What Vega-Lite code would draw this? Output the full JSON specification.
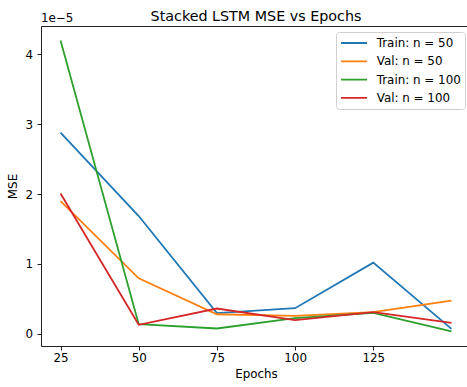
{
  "$schema": "https://vega.github.io/schema/vega-lite/v6.json",
  "autosize": {"type": "none"},
  "padding": {"left": 41, "top": 26, "right": 0, "bottom": 41},
  "width": 430,
  "height": 320,
  "background": "white",
  "title": {"text": "Stacked LSTM MSE vs Epochs", "fontSize": 14.3, "font": "DejaVu Sans", "fontWeight": "normal", "color": "#000", "offset": -23, "baseline": "alphabetic", "anchor": "middle"},
  "config": {
    "font": "DejaVu Sans",
    "view": {"stroke": "#222", "strokeWidth": 1},
    "axis": {"grid": false, "domain": false, "tickColor": "#222", "tickSize": 4, "tickWidth": 1, "labelColor": "#000", "titleColor": "#000", "labelFontSize": 11.9, "titleFontSize": 11.9, "labelFont": "DejaVu Sans", "titleFont": "DejaVu Sans", "titleFontWeight": "normal"}
  },
  "datasets": {
    "lines": [
      {"epochs": 25, "mse": 2.88e-5, "series": "Train: n = 50"},
      {"epochs": 50, "mse": 1.686e-5, "series": "Train: n = 50"},
      {"epochs": 75, "mse": 0.295e-5, "series": "Train: n = 50"},
      {"epochs": 100, "mse": 0.367e-5, "series": "Train: n = 50"},
      {"epochs": 125, "mse": 1.019e-5, "series": "Train: n = 50"},
      {"epochs": 150, "mse": 0.071e-5, "series": "Train: n = 50"},
      {"epochs": 25, "mse": 1.9e-5, "series": "Val: n = 50"},
      {"epochs": 50, "mse": 0.795e-5, "series": "Val: n = 50"},
      {"epochs": 75, "mse": 0.28e-5, "series": "Val: n = 50"},
      {"epochs": 100, "mse": 0.257e-5, "series": "Val: n = 50"},
      {"epochs": 125, "mse": 0.31e-5, "series": "Val: n = 50"},
      {"epochs": 150, "mse": 0.476e-5, "series": "Val: n = 50"},
      {"epochs": 25, "mse": 4.2e-5, "series": "Train: n = 100"},
      {"epochs": 50, "mse": 0.138e-5, "series": "Train: n = 100"},
      {"epochs": 75, "mse": 0.076e-5, "series": "Train: n = 100"},
      {"epochs": 100, "mse": 0.224e-5, "series": "Train: n = 100"},
      {"epochs": 125, "mse": 0.3e-5, "series": "Train: n = 100"},
      {"epochs": 150, "mse": 0.033e-5, "series": "Train: n = 100"},
      {"epochs": 25, "mse": 2.01e-5, "series": "Val: n = 100"},
      {"epochs": 50, "mse": 0.129e-5, "series": "Val: n = 100"},
      {"epochs": 75, "mse": 0.362e-5, "series": "Val: n = 100"},
      {"epochs": 100, "mse": 0.195e-5, "series": "Val: n = 100"},
      {"epochs": 125, "mse": 0.31e-5, "series": "Val: n = 100"},
      {"epochs": 150, "mse": 0.157e-5, "series": "Val: n = 100"}
    ],
    "note": [{"label": "1e\u22125"}]
  },
  "layer": [
    {
      "data": {"name": "lines"},
      "mark": {"type": "line", "strokeWidth": 1.8},
      "encoding": {
        "x": {"field": "epochs", "type": "quantitative", "scale": {"domain": [18.75, 156.25], "nice": false, "zero": false},
              "axis": {"values": [25, 50, 75, 100, 125], "title": "Epochs", "labelPadding": 2.5, "titlePadding": 5}},
        "y": {"field": "mse", "type": "quantitative", "scale": {"domain": [-0.175e-5, 4.408e-5], "nice": false, "zero": false},
              "axis": {"values": [0, 1e-5, 2e-5, 3e-5, 4e-5], "labelExpr": "format(datum.value*1e5, '.0f')", "title": "MSE", "labelPadding": 4.5, "titlePadding": 6}},
        "color": {"field": "series", "type": "nominal",
                  "scale": {"domain": ["Train: n = 50", "Val: n = 50", "Train: n = 100", "Val: n = 100"], "range": ["#1f77b4", "#ff7f0e", "#2ca02c", "#d62728"]},
                  "legend": {"title": null, "orient": "top-right", "offset": 6, "symbolType": "stroke", "symbolSize": 676, "symbolStrokeWidth": 1.8, "clipHeight": 14, "labelFontSize": 11.9, "labelFont": "DejaVu Sans", "labelColor": "#000", "labelOffset": 8.7, "rowPadding": 4.3, "padding": 4, "fillColor": "white", "strokeColor": "#d0d0d0", "cornerRadius": 3}}
      }
    },
    {
      "data": {"name": "note"},
      "mark": {"type": "text", "align": "left", "baseline": "alphabetic", "dy": -4, "fontSize": 11.9, "font": "DejaVu Sans", "color": "#000"},
      "encoding": {
        "x": {"datum": 18.75, "type": "quantitative"},
        "y": {"datum": 4.408e-5, "type": "quantitative"},
        "text": {"field": "label"}
      }
    }
  ]
}
